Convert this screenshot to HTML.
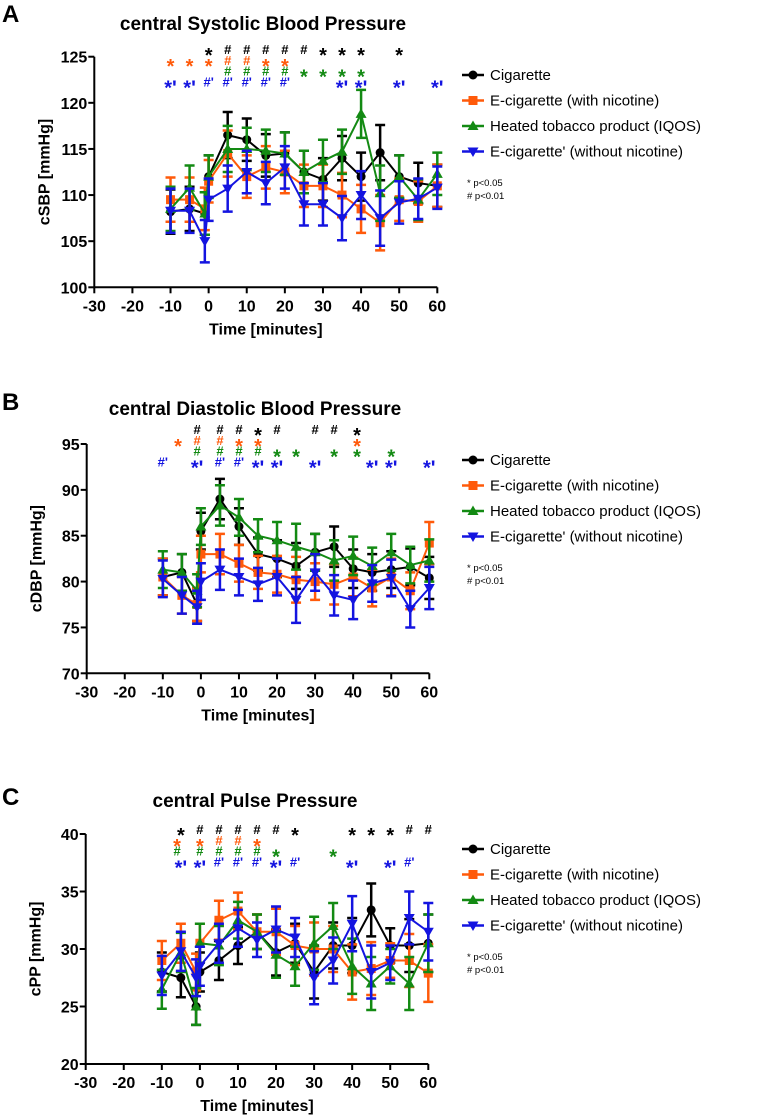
<!DOCTYPE html>
<html><head><meta charset="utf-8">
<style>
body{margin:0;background:#fff;}
svg{display:block;font-family:"Liberation Sans",Arial,sans-serif;}
</style></head>
<body>
<svg id="fig" width="763" height="1120" viewBox="0 0 763 1120" xmlns="http://www.w3.org/2000/svg"></svg>
<script>
const times = [-10,-5,-1,0,5,10,15,20,25,30,35,40,45,50,55,60];
// Panel A: cSBP
const sbpCig  = [108.2,108.5,108,112,116.5,116,114.3,114.5,112.5,111.7,114,112,114.6,112,111.3,111];
const sbpEcig = [109.5,109.5,108.5,111.5,114.5,112,113,112.5,111,111,110,108.5,107,109.5,109.3,111];
const sbpIqos = [108.5,110.8,108,112,115,115,114.8,114.5,112.5,113.7,114.7,118.8,110.2,112,109.5,112.3];
const sbpEcig0= [108.3,108.3,105,109.5,110.7,112.5,111.3,113,109,109,107.5,110,107.5,109.2,109.6,110.8];
const sbpErr  = [2.4,2.4,2.3,2.3,2.5,2.3,2.3,2.3,2.3,2.3,2.4,2.6,3,2.3,2.2,2.3];
// Panel B: cDBP
const dbpCig  = [80.5,81,77.5,85.5,89,86,83,82.5,81.7,83.2,83.8,81.4,81,81.3,81.6,80.4];
const dbpEcig = [80.5,78.5,77.5,83,83,82,81,80.8,80.2,80,79.7,80.5,79.3,80.5,79,84.2];
const dbpIqos = [81.3,81,79,86,88.3,87,85,84.5,83.8,83.2,82.3,82.8,81.7,83.2,81.8,82.3];
const dbpEcig0= [80.3,78.5,77.2,80,81.3,80.5,79.7,80.5,78,81,78.5,78,79.8,80.4,77,79.3];
const dbpErr  = [2,2,1.8,2,2.2,2,1.8,2,2.5,2,2.2,2.1,2,2,2,2.3];
// Panel C: cPP
const ppCig  = [28,27.5,25,28,29,30.3,31.5,29.7,30.5,28,30.3,30.3,33.4,30.3,30.3,30.5];
const ppEcig = [29,30.5,28,30.5,32.5,33.3,31.5,31.5,30.3,30,30,28,28.3,29,29,27.9];
const ppIqos = [26.5,29.7,25,30.5,30.3,32.5,31.5,29.5,28.5,30.5,32,28.5,27,28.5,27,30.5];
const ppEcig0= [27.7,29.8,27.5,28.5,30.5,31.8,30.8,31.7,31,27.5,29,32.2,28,28.8,32.7,31.5];
const ppErr  = [1.7,1.7,1.6,1.7,1.7,1.6,1.5,2,1.7,2.3,2,2.4,2.3,1.5,2.3,2.5];

const xTicks = [-30,-20,-10,0,10,20,30,40,50,60];
const yTicksA = [100,105,110,115,120,125];
const yTicksB = [70,75,80,85,90,95];
const yTicksC = [20,25,30,35,40];
const seriesNames = ["Cigarette","E-cigarette (with nicotine)","Heated tobacco product (IQOS)","E-cigarette' (without nicotine)"];
const colors = ["#000000","#ff5a0a","#138a13","#1414e0"];

const sigA = [
 [[0,"*"],[5,"#"],[10,"#"],[15,"#"],[20,"#"],[25,"#"],[30,"*"],[35,"*"],[40,"*"],[50,"*"]],
 [[-10,"*"],[-5,"*"],[0,"*"],[5,"#"],[10,"#"],[15,"*"],[20,"*"]],
 [[5,"#"],[10,"#"],[15,"#"],[20,"#"],[25,"*"],[30,"*"],[35,"*"],[40,"*"]],
 [[-10,"*'"],[-5,"*'"],[0,"#'"],[5,"#'"],[10,"#'"],[15,"#'"],[20,"#'"],[35,"*'"],[40,"*'"],[50,"*'"],[60,"*'"]]
];
const sigB = [
 [[-1,"#"],[5,"#"],[10,"#"],[15,"*"],[20,"#"],[30,"#"],[35,"#"],[41,"*"]],
 [[-6,"*"],[-1,"#"],[5,"#"],[10,"*"],[15,"*"],[41,"*"]],
 [[-1,"#"],[5,"#"],[10,"#"],[15,"#"],[20,"*"],[25,"*"],[35,"*"],[41,"*"],[50,"*"]],
 [[-10,"#'"],[-1,"*'"],[5,"#'"],[10,"#'"],[15,"*'"],[20,"*'"],[30,"*'"],[45,"*'"],[50,"*'"],[60,"*'"]]
];
const sigC = [
 [[-5,"*"],[0,"#"],[5,"#"],[10,"#"],[15,"#"],[20,"#"],[25,"*"],[40,"*"],[45,"*"],[50,"*"],[55,"#"],[60,"#"]],
 [[-6,"*"],[0,"*"],[5,"#"],[10,"#"],[15,"*"]],
 [[-6,"#"],[0,"#"],[5,"#"],[10,"#"],[15,"#"],[20,"*"],[35,"*"]],
 [[-5,"*'"],[0,"*'"],[5,"#'"],[10,"#'"],[15,"#'"],[20,"*'"],[25,"#'"],[40,"*'"],[50,"*'"],[55,"#'"]]
];

const NS="http://www.w3.org/2000/svg";
const svg=document.getElementById('fig');
function mk(tag,attrs,parent,text){const e=document.createElementNS(NS,tag);for(const k in attrs)e.setAttribute(k,attrs[k]);if(text!==undefined)e.textContent=text;(parent||svg).appendChild(e);return e;}

function marker(g,type,x,y,c){
  let e;
  if(type===0){e=mk('circle',{cx:x,cy:y,r:4.5,fill:c},g);}
  else if(type===1){e=mk('rect',{x:x-4.5,y:y-4.5,width:9,height:9,fill:c},g);}
  else if(type===2){e=mk('polygon',{points:`${x},${y-5.5} ${x-5.5},${y+4} ${x+5.5},${y+4}`,fill:c},g);}
  else {e=mk('polygon',{points:`${x},${y+5.5} ${x-5.5},${y-4} ${x+5.5},${y-4}`,fill:c},g);}
  return e;
}

function panel(p){
  const g=mk('g',{});
  
  
  const xs=v=>p.x0+(v+30)/90*(p.x1-p.x0);
  const ys=v=>p.yb-(v-p.ymin)/(p.ymax-p.ymin)*(p.yb-p.yt);
  const lt=mk('text',{x:p.letterX,y:p.letterY,'font-size':24,'font-weight':'bold'},g,p.letter);
  
  const tt=mk('text',{x:p.titleX,y:p.titleY,'font-size':19,'font-weight':'bold','text-anchor':'middle'},g,p.title);
  
  const ya=mk('line',{x1:p.x0,y1:p.yb,x2:p.x0,y2:p.yt,stroke:'#000','stroke-width':2},g);
  
  const xa=mk('line',{x1:p.x0,y1:p.yb,x2:p.x1,y2:p.yb,stroke:'#000','stroke-width':2},g);
  
  p.yTicks.forEach(v=>{
    mk('line',{x1:p.x0-6,y1:ys(v),x2:p.x0,y2:ys(v),stroke:'#000','stroke-width':2},g);
    const t=mk('text',{x:p.x0-7,y:ys(v)+6,'font-size':16,'font-weight':'bold','text-anchor':'end'},g,String(v));
    
  });
  xTicks.forEach(v=>{
    mk('line',{x1:xs(v),y1:p.yb,x2:xs(v),y2:p.yb+6,stroke:'#000','stroke-width':2},g);
    const t=mk('text',{x:xs(v),y:p.yb+24,'font-size':16,'font-weight':'bold','text-anchor':'middle'},g,String(v));
    
  });
  const xt=mk('text',{x:(p.x0+p.x1)/2,y:p.yb+47,'font-size':16,'font-weight':'bold','text-anchor':'middle'},g,'Time [minutes]');
  
  const yx=p.x0-45, yy=(p.yt+p.yb)/2;
  const yt=mk('text',{x:yx,y:yy,'font-size':16,'font-weight':'bold','text-anchor':'middle',transform:`rotate(-90 ${yx} ${yy})`},g,p.ylabel);
  
  p.series.forEach((vals,si)=>{
    const c=colors[si];
    const sg=mk('g',{},g);
    
    
    vals.forEach((v,i)=>{
      const x=xs(times[i]),e=p.err[i];
      const eb=mk('path',{d:`M${x},${ys(v-e)}V${ys(v+e)}M${x-5},${ys(v-e)}H${x+5}M${x-5},${ys(v+e)}H${x+5}`,stroke:c,'stroke-width':2.5,fill:'none'},sg);
      
    });
    const ln=mk('polyline',{points:vals.map((v,i)=>xs(times[i])+','+ys(v)).join(' '),stroke:c,'stroke-width':2,fill:'none'},sg);
    
    vals.forEach((v,i)=>{
      const m=marker(sg,si,xs(times[i]),ys(v),c);
      
    });
  });
  p.sig.forEach((row,ri)=>{
    row.forEach(([t,s])=>{
      const star=s[0]==='*';
      const e=mk('text',{x:xs(t),y:p.sigY+ri*p.sigDy+(star?8:0),'font-size':star?20:13,'font-weight':'bold','text-anchor':'middle',fill:colors[ri]},g,s);
      
    });
  });
  seriesNames.forEach((n,i)=>{
    const y=p.legY+i*25.5;
    const lg=mk('g',{},g);
    
    
    mk('line',{x1:462,y1:y,x2:484,y2:y,stroke:colors[i],'stroke-width':2.5},lg);
    marker(lg,i,473,y,colors[i]);
    mk('text',{x:490,y:y+5,'font-size':15},lg,n);
  });
  const n1=mk('text',{x:467,y:p.legY+111,'font-size':9.5},g,'* p<0.05');
  
  const n2=mk('text',{x:467,y:p.legY+124,'font-size':9.5},g,'# p<0.01');
  
}

panel({id:'sbp',letter:'A',letterX:2,letterY:22,title:'central Systolic Blood Pressure',titleX:263,titleY:30,
  x0:94.3,x1:437.3,yt:56.7,yb:287.3,ymin:100,ymax:125,yTicks:yTicksA,ylabel:'cSBP [mmHg]',
  series:[sbpCig,sbpEcig,sbpIqos,sbpEcig0],err:sbpErr,sig:sigA,sigY:54,sigDy:10.8,legY:75});
panel({id:'dbp',letter:'B',letterX:2,letterY:410,title:'central Diastolic Blood Pressure',titleX:255,titleY:415,
  x0:86.7,x1:429.3,yt:444,yb:673.3,ymin:70,ymax:95,yTicks:yTicksB,ylabel:'cDBP [mmHg]',
  series:[dbpCig,dbpEcig,dbpIqos,dbpEcig0],err:dbpErr,sig:sigB,sigY:434,sigDy:10.8,legY:460});
panel({id:'pp',letter:'C',letterX:2,letterY:805,title:'central Pulse Pressure',titleX:255,titleY:807,
  x0:85.7,x1:428.3,yt:834,yb:1064,ymin:20,ymax:40,yTicks:yTicksC,ylabel:'cPP [mmHg]',
  series:[ppCig,ppEcig,ppIqos,ppEcig0],err:ppErr,sig:sigC,sigY:834,sigDy:10.8,legY:849});
</script>
</body></html>
